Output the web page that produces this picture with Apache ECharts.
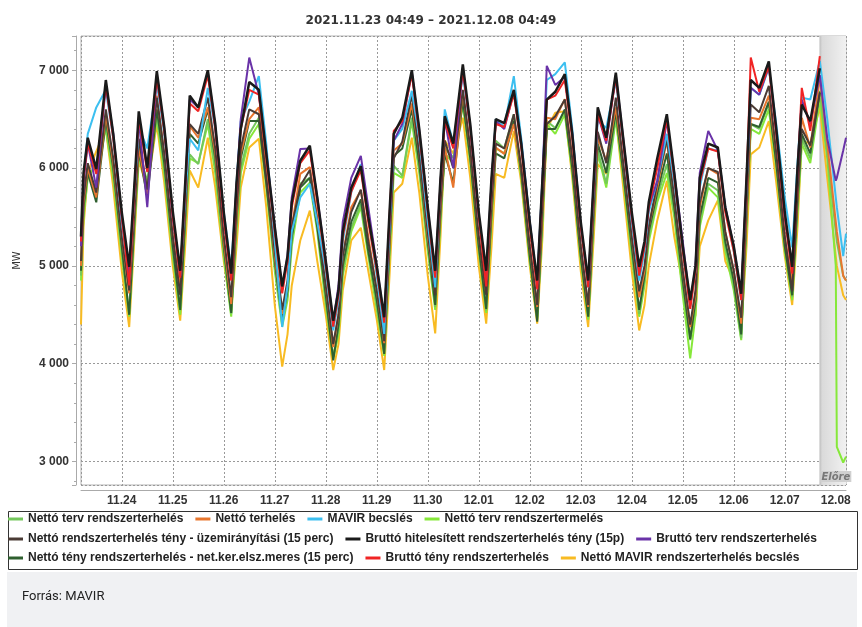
<!DOCTYPE html>
<html>
<head>
<meta charset="utf-8">
<title>MAVIR rendszerterhelés</title>
<script src="https://cdn.jsdelivr.net/npm/echarts@6.0.0/dist/echarts.min.js"></script>
<style>
  html, body { margin: 0; padding: 0; background: #fff; }
  #chart { width: 862px; height: 627px; }
</style>
</head>
<body>
<div id="chart"></div>
<script>
// idopontok: elso nap 04:49-tol, utana napi 7 pont, utolso nap 04:49-ig
var firstDayHours = ['04:49', '06:00', '08:00', '12:00', '16:30', '20:00'];
var dayHours = ['00:00', '03:30', '06:00', '08:00', '12:00', '16:30', '20:00'];
var lastDayHours = ['00:00', '00:30', '03:30', '04:49'];
var days = ['2021-11-24', '2021-11-25', '2021-11-26', '2021-11-27', '2021-11-28', '2021-11-29', '2021-11-30',
  '2021-12-01', '2021-12-02', '2021-12-03', '2021-12-04', '2021-12-05', '2021-12-06', '2021-12-07'];
var startTime = '2021-11-23 04:49';
var endTime = '2021-12-08 04:49';
var forecastStart = '2021-12-07 16:20';

var times = [];
firstDayHours.forEach(function (h) { times.push('2021-11-23 ' + h); });
days.forEach(function (d) { dayHours.forEach(function (h) { times.push(d + ' ' + h); }); });
lastDayHours.forEach(function (h) { times.push('2021-12-08 ' + h); });

// MW ertekek (sorok: napok)
var nettoTerv = [
  4900, 5550, 5950, 5800, 6450, 5950,
  5150, 4510, 5450, 6145, 5870, 6550, 6000,
  5150, 4545, 5500, 6140, 6040, 6500, 6000,
  5150, 4510, 5400, 6000, 6350, 6515, 5850,
  5000, 4410, 4700, 5250, 5840, 5900, 5400,
  4650, 4070, 4350, 4950, 5390, 5635, 5150,
  4600, 4105, 5150, 6025, 5920, 6515, 6000,
  5200, 4580, 5500, 6200, 6105, 6690, 6100,
  5200, 4545, 5500, 6280, 6200, 6550, 5950,
  5100, 4475, 5500, 6480, 6410, 6585, 6000,
  5100, 4475, 5450, 6180, 5840, 6550, 5950,
  5150, 4510, 4850, 5300, 5700, 6040, 5550,
  4800, 4240, 4600, 5450, 5840, 5770, 5200,
  4800, 4260, 5450, 6450, 6400, 6660, 6050,
  5200, 4680, 5600, 6300, 6100, 6790, 6150,
  5350, 5250, 4900, 4850
];
var nettoTerheles = [
  5000, 5650, 6000, 5700, 6550, 6050,
  5300, 4720, 5550, 6210, 5735, 6740, 6150,
  5300, 4780, 5600, 6430, 6310, 6620, 6150,
  5250, 4610, 5500, 6150, 6500, 6620, 5950,
  5100, 4510, 4800, 5400, 5940, 6010, 5500,
  4800, 4170, 4500, 5100, 5600, 5770, 5300,
  4750, 4210, 5250, 6180, 6250, 6660, 6150,
  5300, 4720, 5600, 6210, 5800, 6790, 6200,
  5300, 4720, 5600, 6210, 6145, 6450, 6000,
  5200, 4580, 5600, 6515, 6500, 6705, 6100,
  5200, 4580, 5550, 6310, 6075, 6620, 6050,
  5300, 4680, 4950, 5400, 5800, 6280, 5700,
  4950, 4375, 4700, 5600, 6000, 5940, 5350,
  4950, 4410, 5550, 6515, 6500, 6740, 6150,
  5300, 4820, 5700, 6515, 6210, 6925, 6250,
  5450, 5350, 4900, 4850
];
var mavirBecsles = [
  5300, 5900, 6350, 6620, 6800, 6300,
  5450, 4850, 5750, 6415, 6200, 6860, 6350,
  5500, 4900, 5750, 6300, 6180, 6820, 6400,
  5550, 4970, 5850, 6480, 6680, 6940, 6250,
  5250, 4375, 4800, 5350, 5700, 5840, 5450,
  4950, 4340, 4650, 5250, 5750, 6040, 5500,
  4900, 4305, 5400, 6280, 6400, 6790, 6300,
  5450, 4780, 5850, 6600, 6250, 6960, 6400,
  5500, 4850, 5850, 6500, 6420, 6940, 6300,
  5450, 4820, 5900, 6900, 6960, 7080, 6400,
  5400, 4780, 5750, 6485, 6410, 6890, 6250,
  5450, 4850, 5150, 5550, 5870, 6350, 5850,
  5150, 4580, 4950, 5800, 6200, 6177, 5600,
  5150, 4650, 5800, 6820, 6750, 7025, 6450,
  5700, 5190, 6050, 6720, 6700, 7095, 6500,
  5700, 5600, 5100, 5330
];
var nettoTermeles = [
  4850, 5500, 5900, 6050, 6400, 5900,
  5100, 4480, 5400, 6100, 5850, 6500, 5950,
  5100, 4500, 5450, 6100, 6050, 6450, 5950,
  5100, 4480, 5350, 5950, 6300, 6450, 5800,
  4950, 4380, 4650, 5200, 5750, 5850, 5350,
  4600, 4050, 4300, 4900, 5350, 5600, 5100,
  4550, 4080, 5100, 5950, 5900, 6480, 5950,
  5150, 4550, 5450, 6150, 6050, 6650, 6050,
  5150, 4520, 5450, 6200, 6150, 6500, 5900,
  5050, 4450, 5450, 6450, 6350, 6550, 5950,
  5050, 4450, 5400, 6150, 5800, 6500, 5900,
  5100, 4480, 4800, 5250, 5650, 5950, 5500,
  4700, 4055, 4500, 5400, 5800, 5700, 5150,
  4750, 4240, 5400, 6400, 6350, 6600, 6000,
  5150, 4650, 5550, 6250, 6050, 6700, 6100,
  5000, 3150, 2990, 3050
];
var nettoUzemir = [
  5050, 5700, 6050, 5750, 6600, 6100,
  5300, 4750, 5580, 6300, 5780, 6720, 6150,
  5300, 4700, 5650, 6450, 6350, 6720, 6200,
  5300, 4680, 5580, 6200, 6600, 6550, 5900,
  5150, 4550, 4850, 5400, 5820, 5980, 5450,
  4800, 4200, 4500, 5100, 5550, 5780, 5250,
  4750, 4230, 5300, 6100, 6270, 6750, 6150,
  5350, 4700, 5650, 6280, 6000, 6800, 6200,
  5300, 4700, 5650, 6250, 6200, 6550, 6000,
  5200, 4600, 5650, 6450, 6530, 6700, 6100,
  5200, 4600, 5600, 6370, 6050, 6720, 6050,
  5300, 4740, 5000, 5400, 5850, 6300, 5700,
  4950, 4400, 4750, 5650, 6000, 5960, 5350,
  4950, 4470, 5650, 6650, 6570, 6840, 6150,
  5300, 4740, 5750, 6400, 6230, 6770, null,
  null, null, null, null
];
var bruttoHitelesitett = [
  5300, 5950, 6310, 5990, 6900, 6350,
  5550, 4990, 5850, 6580, 6000, 6990, 6420,
  5560, 4950, 5900, 6740, 6620, 7000, 6450,
  5550, 4920, 5850, 6400, 6880, 6800, 6150,
  5400, 4790, 5100, 5650, 6075, 6230, 5700,
  5050, 4440, 4750, 5350, 5800, 6020, 5500,
  5000, 4475, 5550, 6350, 6515, 7000, 6400,
  5600, 4950, 5900, 6530, 6250, 7060, 6450,
  5550, 4950, 5900, 6500, 6460, 6800, 6250,
  5450, 4850, 5900, 6700, 6780, 6960, 6350,
  5450, 4850, 5850, 6620, 6310, 6975, 6300,
  5550, 4990, 5250, 5650, 6100, 6550, 5950,
  5200, 4650, 5000, 5900, 6250, 6210, 5600,
  5200, 4715, 5900, 6900, 6820, 7090, 6400,
  5550, 4990, 6000, 6650, 6480, 7020, null,
  null, null, null, null
];
var bruttoTerv = [
  5200, 5850, 6250, 5800, 6850, 6350,
  5500, 4900, 5800, 6500, 5600, 6950, 6400,
  5500, 4900, 5850, 6700, 6620, 6980, 6430,
  5500, 4880, 5800, 6500, 7130, 6750, 6150,
  5400, 4760, 5100, 5700, 6195, 6200, 5700,
  5050, 4420, 4800, 5450, 5900, 6125, 5600,
  5000, 4450, 5450, 6280, 6450, 6980, 6380,
  5580, 4920, 5850, 6500, 6000, 7020, 6420,
  5520, 4900, 5850, 6480, 6400, 6780, 6250,
  5450, 4800, 5900, 7045, 6850, 6930, 6350,
  5420, 4820, 5800, 6550, 6250, 6950, 6300,
  5500, 4950, 5200, 5600, 5870, 6480, 5950,
  5250, 4600, 5000, 5950, 6380, 6180, 5600,
  5200, 4700, 5850, 6820, 6750, 7040, 6380,
  5500, 4950, 5950, 6700, 6450, 6950, 6300,
  5870, 5900, 6180, 6310
];
var nettoTenyNetKer = [
  4950, 5600, 5950, 5650, 6500, 6000,
  5200, 4500, 5480, 6180, 5700, 6600, 6050,
  5200, 4550, 5550, 6350, 6250, 6600, 6100,
  5200, 4520, 5480, 6100, 6480, 6480, 5850,
  5050, 4450, 4750, 5300, 5800, 5900, 5400,
  4700, 4035, 4400, 5000, 5450, 5680, 5150,
  4650, 4100, 5200, 6125, 6200, 6600, 6050,
  5250, 4600, 5550, 6150, 5850, 6700, 6100,
  5200, 4560, 5550, 6150, 6100, 6480, 5950,
  5100, 4430, 5550, 6400, 6400, 6600, 6000,
  5100, 4480, 5500, 6250, 5950, 6580, 5950,
  5200, 4550, 4900, 5350, 5750, 6150, 5600,
  4850, 4250, 4650, 5500, 5900, 5850, 5250,
  4850, 4300, 5500, 6450, 6420, 6680, 6050,
  5200, 4700, 5650, 6350, 6150, 6780, null,
  null, null, null, null
];
var bruttoTeny = [
  5250, 5900, 6250, 5940, 6850, 6300,
  5500, 4800, 5780, 6520, 5960, 6920, 6380,
  5500, 4880, 5850, 6660, 6580, 6950, 6400,
  5480, 4850, 5800, 6400, 6800, 6750, 6100,
  5350, 4720, 5050, 5600, 6050, 6180, 5650,
  5000, 4380, 4700, 5300, 5760, 5980, 5450,
  4950, 4420, 5500, 6380, 6480, 6960, 6350,
  5550, 4880, 5850, 6480, 6200, 7000, 6400,
  5500, 4790, 5850, 6450, 6420, 6760, 6200,
  5400, 4760, 5850, 6700, 6740, 6900, 6300,
  5400, 4780, 5800, 6550, 6280, 6930, 6250,
  5500, 4900, 5200, 5600, 6000, 6500, 5900,
  5150, 4560, 4950, 5850, 6200, 6170, 5550,
  5150, 4650, 5850, 7130, 6780, 7040, 6350,
  5500, 4920, 5950, 6820, 6380, 7145, null,
  null, null, null, null
];
var nettoMavirBecsles = [
  4400, 5400, 5950, 6170, 6400, 5800,
  4950, 4375, 5300, 6075, 5800, 6450, 5850,
  5000, 4440, 5250, 5975, 5800, 6310, 5800,
  5050, 4540, 5200, 5800, 6210, 6300, 5600,
  4600, 3970, 4300, 4800, 5260, 5565, 5050,
  4500, 3935, 4200, 4750, 5260, 5390, 4950,
  4450, 3935, 4900, 5750, 5840, 6310, 5750,
  4900, 4310, 5300, 6280, 6150, 6515, 5900,
  5000, 4410, 5200, 5940, 5900, 6380, 5850,
  5000, 4410, 5300, 6400, 6565, 6580, 5900,
  4950, 4375, 5250, 6040, 5940, 6520, 5800,
  4950, 4340, 4600, 5000, 5465, 5870, 5300,
  4800, 4270, 4500, 5200, 5465, 5670, 5050,
  4850, 4350, 5200, 6140, 6210, 6480, 5850,
  5100, 4600, 5400, 6280, 6250, 6620, 5900,
  5100, 5000, 4700, 4650
];

// legenda sorai
var legendRow1 = ['Nettó terv rendszerterhelés', 'Nettó terhelés', 'MAVIR becslés', 'Nettó terv rendszertermelés'];
var legendRow2 = ['Nettó rendszerterhelés tény - üzemirányítási (15 perc)', 'Bruttó hitelesített rendszerterhelés tény (15p)', 'Bruttó terv rendszerterhelés'];
var legendRow3 = ['Nettó tény rendszerterhelés - net.ker.elsz.meres (15 perc)', 'Bruttó tény rendszerterhelés', 'Nettó MAVIR rendszerterhelés becslés'];

var chart = echarts.init(document.getElementById('chart'));

function pair(values) {
  return times.map(function (t, i) { return [t, values[i]]; });
}

function line(name, color, values, width) {
  return {
    name: name,
    type: 'line',
    symbol: 'none',
    showSymbol: false,
    z: 3,
    data: pair(values),
    lineStyle: { color: color, width: width || 2 },
    itemStyle: { color: color },
    emphasis: { disabled: true }
  };
}

function fmt(v) {
  return String(v).replace(/\B(?=(\d{3})+(?!\d))/g, ' ');
}

function pad(n) { return n < 10 ? '0' + n : '' + n; }

var legendBase = {
  left: 8,
  padding: 0,
  itemGap: 12,
  itemWidth: 15,
  itemHeight: 3,
  icon: 'rect',
  textStyle: { fontFamily: 'Liberation Sans', fontWeight: 'bold', fontSize: 12, color: '#222' },
  selectedMode: false
};

var option = {
  animation: false,
  backgroundColor: '#fff',
  title: {
    text: '2021.11.23 04:49 – 2021.12.08 04:49',
    left: 'center',
    top: 10,
    textStyle: { fontFamily: 'DejaVu Sans', fontWeight: 'bold', fontSize: 12, color: '#333' }
  },
  legend: [
    Object.assign({}, legendBase, { top: 513, data: legendRow1 }),
    Object.assign({}, legendBase, { top: 533, data: legendRow2 }),
    Object.assign({}, legendBase, { top: 552, data: legendRow3 })
  ],
  grid: {
    show: true,
    left: 81,
    right: 16,
    top: 36,
    bottom: 142,
    borderColor: '#b4b4b4',
    borderWidth: 1,
    backgroundColor: '#fff'
  },
  xAxis: {
    type: 'time',
    min: startTime,
    max: endTime,
    offset: 5,
    minInterval: 86400000,
    maxInterval: 86400000,
    axisLine: { show: true, lineStyle: { color: '#aaa' } },
    axisTick: { show: false },
    axisLabel: {
      margin: 5,
      fontFamily: 'Liberation Sans',
      fontWeight: 'bold',
      fontSize: 12,
      color: '#333',
      formatter: function (v) {
        var d = new Date(v);
        return pad(d.getMonth() + 1) + '.' + pad(d.getDate());
      }
    },
    splitLine: { show: true, lineStyle: { color: '#999', type: [2, 2], width: 1 } }
  },
  yAxis: {
    type: 'value',
    min: 2760,
    max: 7350,
    splitNumber: 5,
    offset: 5,
    name: 'MW',
    nameLocation: 'middle',
    nameGap: 54,
    nameRotate: 90,
    nameTextStyle: { fontFamily: 'DejaVu Sans', fontSize: 10, color: '#333' },
    axisLine: { show: true, lineStyle: { color: '#aaa' } },
    axisTick: { show: true, length: 4, lineStyle: { color: '#aaa' } },
    minorTick: { show: true, splitNumber: 5, length: 2, lineStyle: { color: '#aaa' } },
    axisLabel: {
      margin: 7,
      showMinLabel: false,
      showMaxLabel: false,
      fontFamily: 'Liberation Sans',
      fontWeight: 'bold',
      fontSize: 12,
      color: '#333',
      formatter: function (v) { return fmt(v); }
    },
    splitLine: { show: true, lineStyle: { color: '#999', type: [2, 2], width: 1 } }
  },
  graphic: [
    {
      id: 'legendBox',
      type: 'rect',
      shape: { x: 8.5, y: 511.5, width: 849, height: 58 },
      style: { fill: 'none', stroke: '#333', lineWidth: 1 }
    },
    {
      id: 'footer',
      type: 'rect',
      shape: { x: 7, y: 572, width: 850, height: 55 },
      style: { fill: '#f0f1f3' }
    },
    {
      id: 'source',
      type: 'text',
      left: 22,
      top: 590,
      style: { text: 'Forrás: MAVIR', font: '13px Roboto', fill: '#222' }
    }
  ],
  series: [
    {
      // elorejelzesi sav
      name: 'forecast',
      type: 'line',
      z: 1,
      data: [],
      markArea: {
        silent: true,
        itemStyle: {
          color: new echarts.graphic.LinearGradient(0, 0, 1, 0, [
            { offset: 0, color: '#bdbdbd' },
            { offset: 0.1, color: '#dadada' },
            { offset: 1, color: '#f1f1f1' }
          ])
        },
        label: { show: false },
        data: [[{ xAxis: forecastStart }, { xAxis: endTime }]]
      }
    },
    line('Nettó MAVIR rendszerterhelés becslés', '#f8bb22', nettoMavirBecsles),
    line('Nettó terv rendszertermelés', '#86e83a', nettoTermeles),
    line('Nettó terv rendszerterhelés', '#74c75c', nettoTerv),
    line('Nettó tény rendszerterhelés - net.ker.elsz.meres (15 perc)', '#2f5f2f', nettoTenyNetKer),
    line('Nettó terhelés', '#e8762e', nettoTerheles),
    line('Nettó rendszerterhelés tény - üzemirányítási (15 perc)', '#4a3b35', nettoUzemir),
    line('MAVIR becslés', '#3cbff0', mavirBecsles),
    line('Bruttó terv rendszerterhelés', '#6a33a8', bruttoTerv),
    line('Bruttó tény rendszerterhelés', '#f02424', bruttoTeny),
    line('Bruttó hitelesített rendszerterhelés tény (15p)', '#1a1a1a', bruttoHitelesitett, 2.5)
  ]
};

chart.setOption(option);

// "Előre" felirat a sav aljan, a tengely skalajabol szamolt helyen
var p = chart.convertToPixel({ gridIndex: 0 }, [forecastStart, 2760]);
chart.setOption({
  graphic: [{
    id: 'elore',
    type: 'text',
    x: p[0] + 1,
    y: p[1] - 3,
    z: 10,
    style: {
      text: 'Előre',
      font: 'italic bold 10px "DejaVu Sans"',
      fill: '#777',
      backgroundColor: '#d0d0d0',
      padding: [1, 1, 0, 1],
      verticalAlign: 'bottom'
    }
  }]
});
</script>
</body>
</html>
